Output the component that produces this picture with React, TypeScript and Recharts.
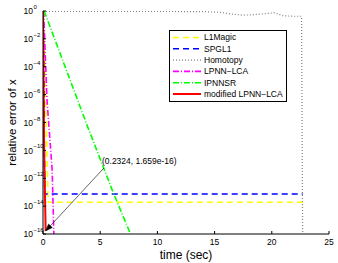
import React from 'react';
import { LineChart, Line, XAxis, YAxis, Legend, ReferenceLine } from 'recharts';

const FONT = '"Liberation Sans", Arial, Helvetica, sans-serif';

const xTicks = [0, 5, 10, 15, 20, 25];
const yTicks = [1e-16, 1e-14, 1e-12, 1e-10, 1e-8, 1e-6, 1e-4, 1e-2, 1];

const l1magicT = [0.05, 0.45, 22.7];
const l1magicV = [1, 1.9e-14, 1.9e-14];

const spgl1T = [0.02, 0.15, 22.7];
const spgl1V = [1, 7.4e-14, 7.4e-14];

const homotopyT = [0, 5, 10, 14, 15.5, 16.5, 17.5, 18.5, 19.5, 20.2, 21, 22, 22.6, 22.7];
const homotopyV = [0.95, 0.95, 0.93, 0.9, 0.8, 0.6, 0.5, 0.55, 0.65, 0.75, 0.45, 0.42, 0.42, 1e-17];

const lpnnT = [0.05, 0.35, 0.8, 0.95, 1.0];
const lpnnV = [1, 4e-7, 4e-12, 1e-16, 1e-17];

const ipnnsrT = [0.1, 3.9, 6.2, 7.65, 7.8];
const ipnnsrV = [1, 5e-9, 7e-14, 1e-16, 5e-17];

const modT = [0, 0.1, 0.2324];
const modV = [1, 1e-10, 1.659e-16];

const annotText = '(0.2324, 1.659e-16)';
const annotTail = { x: 5.33, y: 5.5e-12 };
const annotHead = { x: 0.2324, y: 1.659e-16 };

const zip = (t: number[], v: number[]) => t.map((tt, i) => ({ t: tt, v: v[i] }));

const series = [
  { name: 'L1Magic', color: '#ffff00', dash: '6 4', width: 1.6, data: zip(l1magicT, l1magicV) },
  { name: 'SPGL1', color: '#0000ff', dash: '6 4', width: 1.6, data: zip(spgl1T, spgl1V) },
  { name: 'Homotopy', color: '#808080', dash: '1 2', width: 1.2, data: zip(homotopyT, homotopyV) },
  { name: 'LPNN\u2212LCA', color: '#ff00ff', dash: '6 2 1 2', width: 1.6, data: zip(lpnnT, lpnnV) },
  { name: 'IPNNSR', color: '#00ff00', dash: '6 2 1 2', width: 1.6, data: zip(ipnnsrT, ipnnsrV) },
  { name: 'modified LPNN\u2212LCA', color: '#ff0000', dash: undefined as string | undefined, width: 2, data: zip(modT, modV) },
];

const XTick = (props: any) => {
  const { x, y, payload } = props;
  return (
    <text x={x} y={y} dy="0.71em" textAnchor="middle" fontSize={8.5} fontFamily={FONT} fill="#000">
      {payload.value}
    </text>
  );
};

const YTick = (props: any) => {
  const { x, y, payload } = props;
  const e = Math.round(Math.log10(payload.value));
  const es = e === 0 ? '0' : '\u2212' + Math.abs(e);
  return (
    <g>
      <text x={x} y={y} dy="0.38em" textAnchor="end" fontSize={8.5} fontFamily={FONT} fill="#000">10</text>
      <text x={x + 0.5} y={y - 2} textAnchor="start" fontSize={6} fontFamily={FONT} fill="#000">{es}</text>
    </g>
  );
};

const ArrowShape = (props: any) => {
  const { x1, y1, x2, y2 } = props;
  if ([x1, y1, x2, y2].some((v) => typeof v !== 'number' || isNaN(v))) return null;
  const ang = Math.atan2(y2 - y1, x2 - x1);
  const L = 7;
  const W = 2.6;
  const bx = x2 - L * Math.cos(ang);
  const by = y2 - L * Math.sin(ang);
  const px = -Math.sin(ang) * W;
  const py = Math.cos(ang) * W;
  return (
    <g>
      <line x1={x1} y1={y1} x2={bx} y2={by} stroke="#000" strokeWidth={0.6} />
      <polygon points={`${x2},${y2} ${bx + px},${by + py} ${bx - px},${by - py}`} fill="#000" stroke="#000" strokeWidth={0.5} />
      <text x={x1 - 2} y={y1 - 4} fontSize={8.5} fontFamily={FONT} fill="#000">{annotText}</text>
    </g>
  );
};

const LegendBox = () => {
  const rowH = 11.3;
  return (
    <svg width={118} height={72} style={{ display: 'block' }}>
      <rect x={0.5} y={0.5} width={117} height={71} fill="#fff" stroke="#000" strokeWidth={1} />
      {series.map((s, i) => {
        const cy = 7.5 + i * rowH;
        return (
          <g key={s.name}>
            <line x1={4} x2={32} y1={cy} y2={cy} stroke={s.color} strokeWidth={s.width} strokeDasharray={s.dash} />
            <text x={35} y={cy} dy="0.35em" fontSize={8.5} fontFamily={FONT} fill="#000">{s.name}</text>
          </g>
        );
      })}
    </svg>
  );
};

export default function App() {
  return (
    <div style={{ position: 'absolute', left: 0, top: 0, width: 338, height: 263, background: '#fff' }}>
      <LineChart width={338} height={263} margin={{ top: 11, right: 9, left: 0, bottom: 0 }}>
        <XAxis
          xAxisId="b"
          type="number"
          dataKey="t"
          domain={[0, 25]}
          ticks={xTicks}
          allowDataOverflow
          height={29}
          tickSize={-3}
          tickMargin={8}
          tick={<XTick />}
          stroke="#000"
          axisLine={{ stroke: '#000', strokeWidth: 1 }}
          tickLine={{ stroke: '#000' }}
          label={{
            content: (p: any) => {
              const vb = p.viewBox || {};
              return (
                <text x={vb.x + vb.width / 2} y={vb.y + 25} textAnchor="middle" fontSize={12} fontFamily={FONT} fill="#000">
                  time (sec)
                </text>
              );
            },
          }}
        />
        <XAxis
          xAxisId="top"
          orientation="top"
          type="number"
          domain={[0, 25]}
          ticks={xTicks}
          allowDataOverflow
          height={0}
          tickSize={-3}
          tick={false}
          axisLine={{ stroke: '#000', strokeWidth: 1 }}
          tickLine={{ stroke: '#000' }}
        />
        <YAxis
          yAxisId="l"
          type="number"
          scale="log"
          domain={[1e-16, 1]}
          ticks={yTicks}
          allowDataOverflow
          width={43}
          tickSize={-3}
          tickMargin={13}
          tick={<YTick />}
          axisLine={{ stroke: '#000', strokeWidth: 1 }}
          tickLine={{ stroke: '#000' }}
          label={{
            content: (p: any) => {
              const vb = p.viewBox || {};
              const cx = 12;
              const cy = vb.y + vb.height / 2;
              return (
                <text x={cx} y={cy} transform={`rotate(-90, ${cx}, ${cy})`} dy="0.35em" textAnchor="middle" fontSize={11.5} fontFamily={FONT} fill="#000">
                  relative error of x
                </text>
              );
            },
          }}
        />
        <YAxis
          yAxisId="r"
          orientation="right"
          type="number"
          scale="log"
          domain={[1e-16, 1]}
          ticks={yTicks}
          allowDataOverflow
          width={0}
          tickSize={-3}
          tick={false}
          axisLine={{ stroke: '#000', strokeWidth: 1 }}
          tickLine={{ stroke: '#000' }}
        />
        {series.map((s) => (
          <Line
            key={s.name}
            xAxisId="b"
            yAxisId="l"
            data={s.data}
            dataKey="v"
            name={s.name}
            type="linear"
            stroke={s.color}
            strokeWidth={s.width}
            strokeDasharray={s.dash}
            dot={false}
            activeDot={false}
            isAnimationActive={false}
          />
        ))}
        <ReferenceLine
          xAxisId="b"
          yAxisId="l"
          segment={[annotTail, annotHead]}
          shape={(p: any) => <ArrowShape {...p} />}
          ifOverflow="visible"
        />
        <Legend
          layout="vertical"
          align="center"
          verticalAlign="middle"
          content={() => <LegendBox />}
          wrapperStyle={{ position: 'absolute', left: 169, top: 30, width: 118, height: 72 }}
        />
      </LineChart>
    </div>
  );
}
